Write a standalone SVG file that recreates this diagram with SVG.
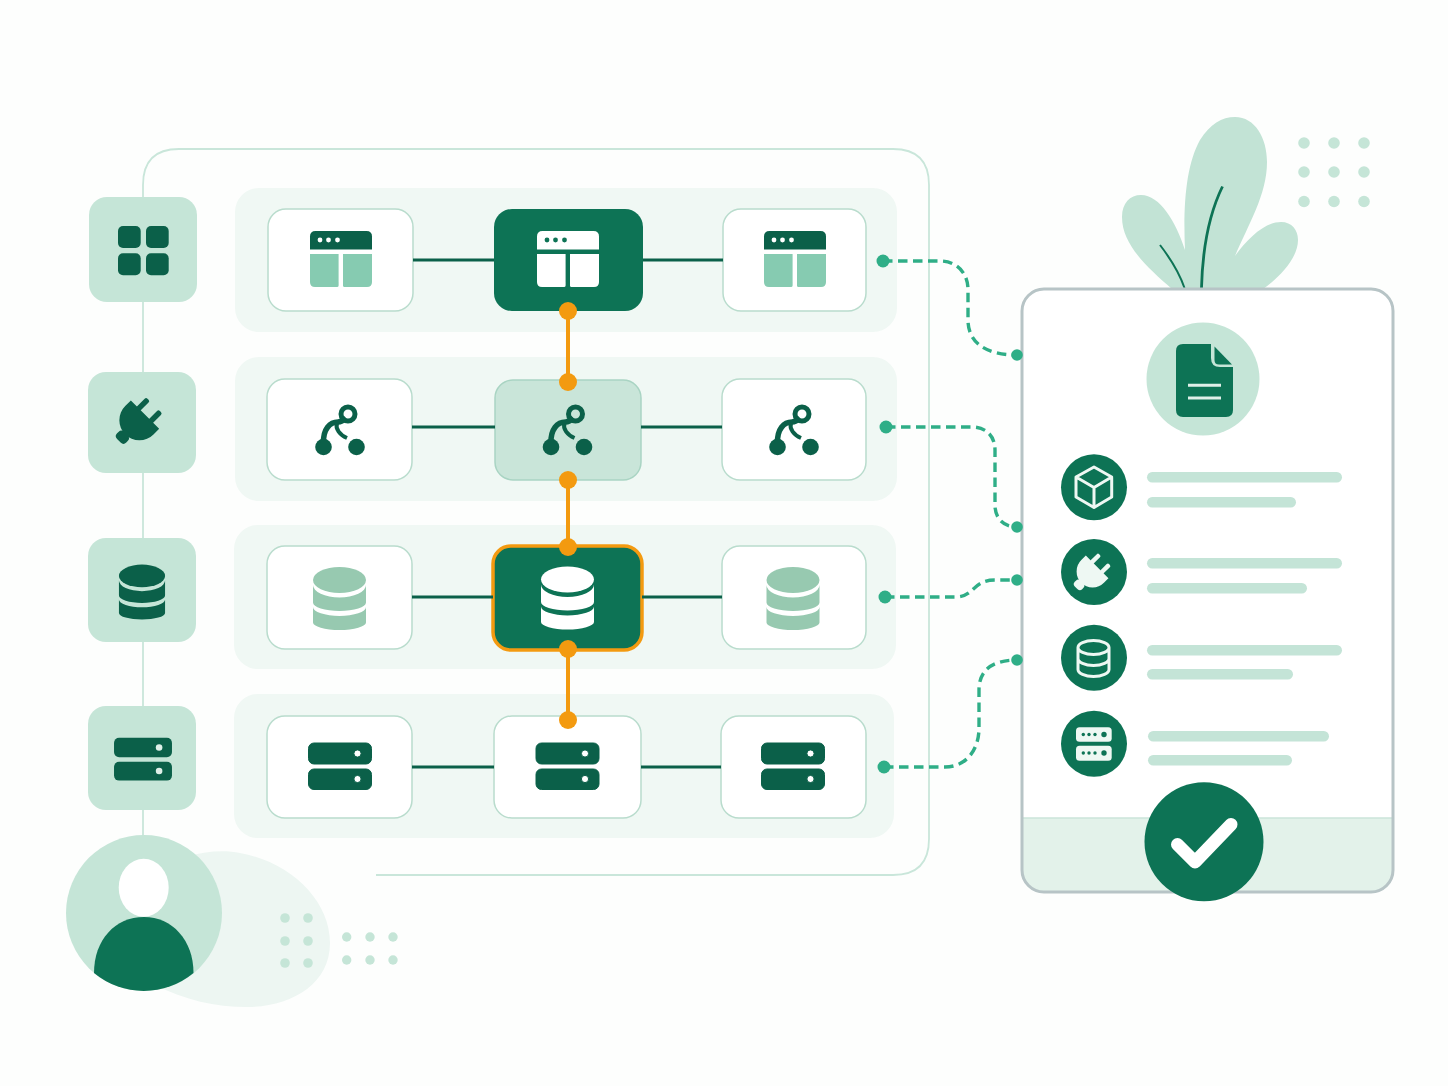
<svg xmlns="http://www.w3.org/2000/svg" width="1448" height="1086" viewBox="0 0 1448 1086">
  <style>
    .band { fill: #f0f8f4; }
    .tile { fill: #c5e5d7; }
    .card { fill: #ffffff; stroke: #b9dccd; stroke-width: 1.5; }
    .card-dark { fill: #0d7355; }
    .card-soft { fill: #c9e5d9; stroke: #a9d4c3; stroke-width: 1.5; }
    .card-hot { fill: #0d7355; stroke: #f39a10; stroke-width: 3.5; }
    .ink { fill: #0b6049; stroke: #0b6049; --dot: #ffffff; --bar: #0b6049; --panel: #86cbb1; }
    .ink-tile { fill: #0b6049; --dot: #dff0e9; }
    .paper { fill: #ffffff; stroke: #ffffff; --dot: #0d7355; --bar: #ffffff; --panel: #ffffff; }
    .sage { fill: #97c9b0; }
    .bar { fill: #c4e4d7; }
    .speck { fill: #c5e5d7; }
    .badge { fill: #0d7355; }
    .link { fill: none; stroke: #0b6049; stroke-width: 3; }
    .flow { fill: none; stroke: #f39a10; stroke-width: 4; }
    .flow-dot { fill: #f39a10; }
    .dash { fill: none; stroke: #2fae87; stroke-width: 3.400; stroke-dasharray: 9.500 5.500; }
    .dash-dot { fill: #2fae87; }
    .outline { fill: none; stroke: #eef8f3; stroke-width: 3; stroke-linejoin: round; stroke-linecap: round; }
  </style>
  <defs>
    <g id="ic-window">
      <path d="M0 18.500V5.500Q0 0 5.500 0H56.500Q62 0 62 5.500V18.500Z" style="fill:var(--bar);stroke:none"/>
      <path d="M0 23H28.600V54.500Q28.600 56 27 56H5Q0 56 0 51Z" style="fill:var(--panel);stroke:none"/>
      <path d="M33 23H62V51Q62 56 57 56H34.500Q33 56 33 54.500Z" style="fill:var(--panel);stroke:none"/>
      <g style="fill:var(--dot);stroke:none">
        <circle cx="10" cy="9" r="2.400"/><circle cx="18.500" cy="9" r="2.400"/><circle cx="27.500" cy="9" r="2.400"/>
      </g>
    </g>
    <g id="ic-branch">
      <circle cx="-16.500" cy="0" r="8.300" stroke="none"/>
      <circle cx="16.500" cy="0" r="8.300" stroke="none"/>
      <circle cx="8" cy="-33" r="7" fill="none" stroke-width="5"/>
      <path d="M-16.500 -4C-17 -18 -10 -25 -2 -25C1 -25 4 -27 6 -29" fill="none" stroke-width="5.500"/>
      <path d="M-3 -24C-5 -18 0 -12 7 -9" fill="none" stroke-width="4"/>
    </g>
    <g id="ic-db">
      <ellipse cx="0" cy="-18.500" rx="26.500" ry="13"/>
      <path d="M-26.500 -13.500A26.500 12.500 0 0 0 26.500 -13.500V4A26.500 8.500 0 0 1 -26.500 4Z"/>
      <path d="M-26.500 8.500A26.500 9 0 0 0 26.500 8.500V24A26.500 7.500 0 0 1 -26.500 24Z"/>
    </g>
    <g id="ic-server">
      <rect x="-31.500" y="-23" width="63" height="21" rx="5.500"/>
      <rect x="-31.500" y="3" width="63" height="20.500" rx="5.500"/>
      <circle cx="17.500" cy="-12.500" r="3.600" style="fill:var(--dot)"/>
      <circle cx="17.500" cy="13" r="3.600" style="fill:var(--dot)"/>
    </g>
    <g id="ic-plug">
      <path d="M-20 -2H20V6A20 20 0 0 1 -20 6Z"/>
      <rect x="-11.500" y="-15" width="5.500" height="15" rx="2"/>
      <rect x="6" y="-15" width="5.500" height="15" rx="2"/>
      <rect x="-6.500" y="25" width="13" height="10" rx="4"/>
      <rect x="-4" y="22" width="8" height="6"/>
    </g>
  </defs>

  <rect id="ground" width="1448" height="1086" fill="#fdfefd"/>

  <g id="backdrop">
    <path d="M143 837V185Q143 149 179 149H893Q929 149 929 185V839Q929 875 893 875H376" fill="none" stroke="#c9e6da" stroke-width="1.800"/>
    <rect class="band" x="235" y="188" width="662" height="144" rx="24"/>
    <rect class="band" x="235" y="357" width="662" height="144" rx="24"/>
    <rect class="band" x="234" y="525" width="662" height="144" rx="24"/>
    <rect class="band" x="234" y="694" width="660" height="144" rx="24"/>
  </g>

  <g id="tile-apps">
    <rect class="tile" x="89" y="197" width="108" height="105" rx="18"/>
    <g fill="#0b6049">
      <rect x="118" y="226" width="22.700" height="22" rx="5"/>
      <rect x="146" y="226" width="22.700" height="22" rx="5"/>
      <rect x="118" y="253.300" width="22.700" height="22" rx="5"/>
      <rect x="146" y="253.300" width="22.700" height="22" rx="5"/>
    </g>
  </g>
  <g id="tile-plug">
    <rect class="tile" x="88" y="372" width="108" height="101" rx="18"/>
    <use href="#ic-plug" class="ink-tile" transform="translate(143.600 416) rotate(45)"/>
  </g>
  <g id="tile-db">
    <rect class="tile" x="88" y="538" width="108" height="104" rx="18"/>
    <use href="#ic-db" class="ink-tile" transform="translate(142 592) scale(.87)"/>
  </g>
  <g id="tile-server">
    <rect class="tile" x="88" y="706" width="108" height="104" rx="18"/>
    <use href="#ic-server" class="ink-tile" transform="translate(143 759) scale(.92)"/>
  </g>

  <g id="node-ui-a">
    <rect class="card" x="268" y="209" width="145" height="102" rx="18"/>
    <use href="#ic-window" class="ink" stroke="none" x="310" y="231"/>
  </g>
  <g id="node-ui-b">
    <rect class="card-dark" x="494" y="209" width="149" height="102" rx="18"/>
    <use href="#ic-window" class="paper" x="537" y="231"/>
  </g>
  <g id="node-ui-c">
    <rect class="card" x="723" y="209" width="143" height="102" rx="18"/>
    <use href="#ic-window" class="ink" x="764" y="231"/>
  </g>

  <g id="node-api-a">
    <rect class="card" x="267" y="379" width="145" height="101" rx="18"/>
    <use href="#ic-branch" class="ink" x="340" y="447"/>
  </g>
  <g id="node-api-b">
    <rect class="card-soft" x="495" y="380" width="146" height="100" rx="18"/>
    <use href="#ic-branch" class="ink" x="567.500" y="447"/>
  </g>
  <g id="node-api-c">
    <rect class="card" x="722" y="379" width="144" height="101" rx="18"/>
    <use href="#ic-branch" class="ink" x="794" y="447"/>
  </g>

  <g id="node-data-a">
    <rect class="card" x="267" y="546" width="145" height="103" rx="18"/>
    <use href="#ic-db" class="sage" x="339.500" y="598.500"/>
  </g>
  <g id="node-data-b">
    <rect class="card-hot" x="493" y="546" width="149" height="104" rx="18"/>
    <use href="#ic-db" fill="#ffffff" x="567.500" y="598"/>
  </g>
  <g id="node-data-c">
    <rect class="card" x="722" y="546" width="144" height="103" rx="18"/>
    <use href="#ic-db" class="sage" x="793" y="598.500"/>
  </g>

  <g id="node-host-a">
    <rect class="card" x="267" y="716" width="145" height="102" rx="18"/>
    <use href="#ic-server" class="ink" stroke="none" x="340" y="766"/>
  </g>
  <g id="node-host-b">
    <rect class="card" x="494" y="716" width="147" height="102" rx="18"/>
    <use href="#ic-server" class="ink" x="567.500" y="766"/>
  </g>
  <g id="node-host-c">
    <rect class="card" x="721" y="716" width="145" height="102" rx="18"/>
    <use href="#ic-server" class="ink" x="793" y="766"/>
  </g>

  <g id="plant">
    <path fill="#c2e3d5" d="M1172 289C1148 268 1122 245 1122 217C1122 203 1130 195 1141 195C1160 195 1176 222 1185 250C1183 205 1186 165 1200 140C1210 124 1222 117 1235 117C1255 117 1267 138 1267 162C1267 195 1248 225 1235 256C1248 238 1265 222 1281 222C1292 222 1298 230 1298 240C1298 258 1280 277 1263 289Z"/>
    <path fill="none" stroke="#0d7355" stroke-width="2.800" d="M1222.500 186.500C1209 214 1202.500 250 1201.500 288"/>
    <path fill="none" stroke="#0d7355" stroke-width="2" d="M1160 245C1170 258 1179 272 1184.500 288"/>
  </g>
  <g id="specks-top">
    <circle class="speck" cx="1304" cy="143" r="5.800"/><circle class="speck" cx="1334" cy="143" r="5.800"/><circle class="speck" cx="1364" cy="143" r="5.800"/>
    <circle class="speck" cx="1304" cy="172" r="5.800"/><circle class="speck" cx="1334" cy="172" r="5.800"/><circle class="speck" cx="1364" cy="172" r="5.800"/>
    <circle class="speck" cx="1304" cy="201.500" r="5.800"/><circle class="speck" cx="1334" cy="201.500" r="5.800"/><circle class="speck" cx="1364" cy="201.500" r="5.800"/>
  </g>

  <g id="report">
    <rect x="1022" y="289" width="371" height="603" rx="22" fill="#ffffff"/>
    <path d="M1022 818H1393V870Q1393 892 1371 892H1044Q1022 892 1022 870Z" fill="#e3f2ea"/>
    <path d="M1022 818H1393" stroke="#cbe5da" stroke-width="1.500"/>
    <rect x="1022" y="289" width="371" height="603" rx="22" fill="none" stroke="#b7c4c6" stroke-width="3"/>

    <circle cx="1203" cy="379" r="56.500" fill="#c5e5d7"/>
    <path fill="#0d7355" d="M1183 344H1211V358Q1211 367 1220 367H1233V410Q1233 417 1226 417H1183Q1176 417 1176 410V351Q1176 344 1183 344Z"/>
    <path fill="#0d7355" d="M1214.500 346.500L1232 364.500H1219Q1214.500 364.500 1214.500 360Z"/>
    <path d="M1188 385.300H1221M1188 398H1221" stroke="#dff0e9" stroke-width="3"/>

    <circle class="badge" cx="1094" cy="487.300" r="33"/>
    <path class="outline" d="M1094 467L1111.700 477V497L1094 507.500L1076 497V477ZM1076 477L1094 487.500L1111.700 477M1094 487.500V507.500"/>
    <rect class="bar" x="1147" y="472" width="195" height="10.500" rx="5.200"/>
    <rect class="bar" x="1147" y="497" width="149" height="10.500" rx="5.200"/>

    <circle class="badge" cx="1094" cy="572" r="33"/>
    <use href="#ic-plug" fill="#eef8f3" transform="translate(1096 568) rotate(45) scale(.8)"/>
    <rect class="bar" x="1147" y="558" width="195" height="10.500" rx="5.200"/>
    <rect class="bar" x="1147" y="583" width="160" height="10.500" rx="5.200"/>

    <circle class="badge" cx="1094" cy="657.700" r="33"/>
    <path class="outline" d="M1078 647.500A15.500 7 0 0 1 1109 647.500A15.500 7 0 0 1 1078 647.500V669.500A15.500 7 0 0 0 1109 669.500V647.500M1078 658.500A15.500 7 0 0 0 1109 658.500"/>
    <rect class="bar" x="1147" y="645" width="195" height="10.500" rx="5.200"/>
    <rect class="bar" x="1147" y="669" width="146" height="10.500" rx="5.200"/>

    <circle class="badge" cx="1094" cy="743.700" r="33"/>
    <rect x="1076" y="727.300" width="35.700" height="14.500" rx="3.500" fill="#eef8f3"/>
    <rect x="1076" y="745.800" width="35.700" height="15" rx="3.500" fill="#eef8f3"/>
    <g fill="#0d7355">
      <circle cx="1083.300" cy="734.500" r="1.700"/><circle cx="1089" cy="734.500" r="1.700"/><circle cx="1095" cy="734.500" r="1.700"/><circle cx="1104" cy="734.500" r="2.700"/>
      <circle cx="1083.300" cy="753" r="1.700"/><circle cx="1089" cy="753" r="1.700"/><circle cx="1095" cy="753" r="1.700"/><circle cx="1104" cy="753" r="2.700"/>
    </g>
    <rect class="bar" x="1148" y="731" width="181" height="10.500" rx="5.200"/>
    <rect class="bar" x="1148" y="755" width="144" height="10.500" rx="5.200"/>
  </g>

  <g id="approved">
    <circle cx="1204" cy="841.700" r="59.500" fill="#0d7355"/>
    <path d="M1177.500 844.500L1195 862L1231 824.500" fill="none" stroke="#ffffff" stroke-width="13" stroke-linecap="round" stroke-linejoin="round"/>
  </g>

  <g id="user">
    <path fill="#edf6f2" d="M185 857C205 851 225 850 240 853C290 862 330 900 330 943C330 985 290 1007 247 1007C215 1007 185 1000 155 985Z"/>
    <circle cx="144" cy="913" r="78" fill="#c5e5d7"/>
    <ellipse cx="143.700" cy="887.700" rx="25" ry="29" fill="#ffffff"/>
    <path fill="#0d7355" d="M94 973C94 940 115 917 144 917C172 917 193.500 940 193.500 973A78 78 0 0 1 94 973Z"/>
  </g>
  <g id="specks-bottom">
    <circle class="speck" cx="285" cy="918" r="4.800"/><circle class="speck" cx="308" cy="918" r="4.800"/>
    <circle class="speck" cx="285" cy="941" r="4.800"/><circle class="speck" cx="308" cy="941" r="4.800"/>
    <circle class="speck" cx="285" cy="963" r="4.800"/><circle class="speck" cx="308" cy="963" r="4.800"/>
    <circle class="speck" cx="346.700" cy="937" r="4.700"/><circle class="speck" cx="370" cy="937" r="4.700"/><circle class="speck" cx="393" cy="937" r="4.700"/>
    <circle class="speck" cx="346.700" cy="960" r="4.700"/><circle class="speck" cx="370" cy="960" r="4.700"/><circle class="speck" cx="393" cy="960" r="4.700"/>
  </g>

  <g id="connectors">
    <path class="link" d="M413 260H494M643 260H723"/>
    <path class="link" d="M412 427H495M641 427H722"/>
    <path class="link" d="M412 597H493M642 597H722"/>
    <path class="link" d="M412 767H494M641 767H721"/>

    <path class="flow" d="M568 311V382M568 480V547M568 649V720"/>
    <circle class="flow-dot" cx="568" cy="311" r="9"/>
    <circle class="flow-dot" cx="568" cy="382" r="9"/>
    <circle class="flow-dot" cx="568" cy="480" r="9"/>
    <circle class="flow-dot" cx="568" cy="547" r="9"/>
    <circle class="flow-dot" cx="568" cy="649" r="9"/>
    <circle class="flow-dot" cx="568" cy="720" r="9"/>

    <path class="dash" d="M883 261H940C956 261 968 272 968 290V320C968 342 985 355 1017 355"/>
    <path class="dash" d="M886 427H972C986 427 995 436 995 450V505C995 518 1003 527 1017 527"/>
    <path class="dash" d="M885 597H955C975 597 972 580 995 580H1017"/>
    <path class="dash" d="M884 767H945C966 767 979 750 979 728V690C979 672 990 660 1017 660"/>
    <circle class="dash-dot" cx="883" cy="261" r="6.500"/>
    <circle class="dash-dot" cx="886" cy="427" r="6.500"/>
    <circle class="dash-dot" cx="885" cy="597" r="6.500"/>
    <circle class="dash-dot" cx="884" cy="767" r="6.500"/>
    <circle class="dash-dot" cx="1017" cy="355" r="5.800"/>
    <circle class="dash-dot" cx="1017" cy="527" r="5.800"/>
    <circle class="dash-dot" cx="1017" cy="580" r="5.800"/>
    <circle class="dash-dot" cx="1017" cy="660" r="5.800"/>
  </g>
</svg>
